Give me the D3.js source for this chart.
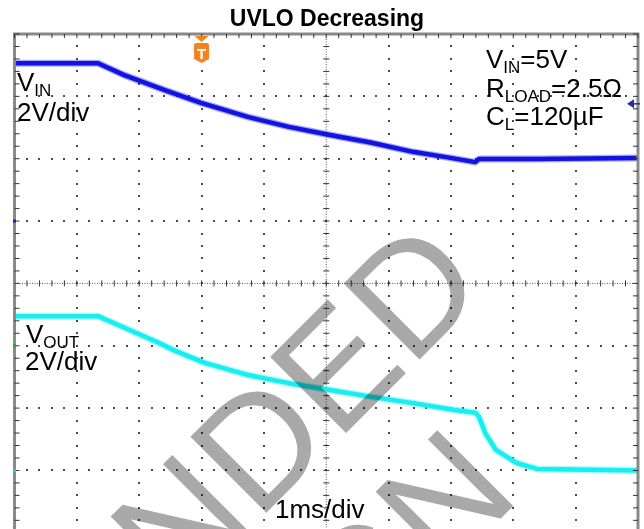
<!DOCTYPE html>
<html>
<head>
<meta charset="utf-8">
<script src="https://cdn.jsdelivr.net/npm/d3@7"></script>
<style>
  body { margin: 0; background: #fff; }
  svg { display: block; }
  text { font-family: "Liberation Sans", Arial, sans-serif; }
</style>
</head>
<body>
<svg id="scope" width="644" height="529"></svg>
<script>
// time in ms relative to the trigger, values in volts
var vinTime  = [-3, -1.66, -1.24, -0.59, -0.01, 0.74, 1.40, 2.06, 2.73, 3.39, 3.92, 4.39, 4.45, 5.38, 7];
var vinVolts = [5.06, 5.06, 4.68, 4.20, 3.79, 3.34, 3.02, 2.76, 2.51, 2.22, 2.05, 1.89, 1.99, 1.99, 2.02];

var voutTime  = [-3, -1.66, -1.09, -0.67, -0.45, 0.05, 0.75, 1.40, 2.06, 2.73, 3.39, 4.06, 4.39, 4.45, 4.55, 4.72, 5.05, 5.38, 7];
var voutVolts = [4.95, 4.95, 4.45, 4.08, 3.86, 3.45, 3.06, 2.80, 2.58, 2.36, 2.16, 1.94, 1.85, 1.72, 1.20, 0.66, 0.24, 0.05, 0.0];

var triggerTime = 0;
var triggerLevel = 3.76;

var title = 'UVLO Decreasing';
var timeLabel = '1ms/div';
var conditions = [
  {main: 'V', sub: 'IN', rest: '=5V'},
  {main: 'R', sub: 'LOAD', rest: '=2.5Ω'},
  {main: 'C', sub: 'L', rest: '=120µF'}
];
var watermark = ['NOT RECOMMENDED', 'FOR NEW DESIGN'];

var svg = d3.select('#scope');

// 10 horizontal divisions, 8 vertical divisions
var plotLeft = 14.5, plotTop = 34, div = 62.35;
var x = d3.scaleLinear().domain([-3, 7]).range([plotLeft, plotLeft + 10 * div]);
var yDiv = d3.scaleLinear().domain([0, 8]).range([plotTop, plotTop + 8 * div]);
var yIn = d3.scaleLinear().domain([6, -10]).range([plotTop, plotTop + 8 * div]);   // 2V/div, ground 3 div down
var yOut = d3.scaleLinear().domain([14, -2]).range([plotTop, plotTop + 8 * div]);  // 2V/div, ground 7 div down

var majorT = d3.range(-3, 7.001, 1);
var minorT = d3.range(-3, 7.001, 0.2);
var majorY = d3.range(0, 8.001, 1);
var minorY = d3.range(0, 8.001, 0.2);
var centerT = 2, centerY = 4;

var grid = svg.append('g').attr('class', 'grid');

// dotted grid lines (one dot per minor division)
majorT.forEach(function(t) {
  if (t === centerT || t === -3 || t === 7) return;
  grid.selectAll(null).data(minorY).enter().append('rect')
    .attr('x', Math.round(x(t)) - 1).attr('y', function(d) { return Math.round(yDiv(d)) - 1; })
    .attr('width', 2).attr('height', 2).attr('fill', '#4a4a4a');
});
majorY.forEach(function(v) {
  if (v === centerY || v === 0 || v === 8) return;
  grid.selectAll(null).data(minorT).enter().append('rect')
    .attr('x', function(d) { return Math.round(x(d)) - 1; }).attr('y', Math.round(yDiv(v)) - 1)
    .attr('width', 2).attr('height', 2).attr('fill', '#4a4a4a');
});

// center axes with minor ticks
grid.append('line')
  .attr('x1', x(centerT)).attr('x2', x(centerT))
  .attr('y1', yDiv(0)).attr('y2', yDiv(8))
  .attr('stroke', '#555').attr('stroke-dasharray', '1,1.5');
grid.append('line')
  .attr('x1', x(-3)).attr('x2', x(7))
  .attr('y1', yDiv(centerY)).attr('y2', yDiv(centerY))
  .attr('stroke', '#555').attr('stroke-dasharray', '1,1.5');
grid.selectAll('.vtick').data(minorY).enter().append('line')
  .attr('x1', x(centerT) - 3).attr('x2', x(centerT) + 3)
  .attr('y1', function(d) { return yDiv(d); }).attr('y2', function(d) { return yDiv(d); })
  .attr('stroke', '#333');
grid.selectAll('.htick').data(minorT).enter().append('line')
  .attr('x1', function(d) { return x(d); }).attr('x2', function(d) { return x(d); })
  .attr('y1', yDiv(centerY) - 3).attr('y2', yDiv(centerY) + 3)
  .attr('stroke', '#333');

// traces
function trace(times, volts, yScale, color) {
  var pts = times.map(function(t, i) { return [x(t), yScale(volts[i])]; });
  var line = d3.line();
  svg.append('path').attr('d', line(pts)).attr('fill', 'none')
    .attr('stroke', color).attr('stroke-opacity', 0.35).attr('stroke-width', 7)
    .attr('stroke-linejoin', 'round');
  svg.append('path').attr('d', line(pts)).attr('fill', 'none')
    .attr('stroke', color).attr('stroke-width', 4.5)
    .attr('stroke-linejoin', 'round');
}
trace(vinTime, vinVolts, yIn, '#1212e2');
trace(voutTime, voutVolts, yOut, '#16eef0');

// frame and edge ticks
var frame = svg.append('g');
frame.append('rect')
  .attr('x', x(-3)).attr('y', yDiv(0))
  .attr('width', x(7) - x(-3)).attr('height', yDiv(8) - yDiv(0))
  .attr('fill', 'none').attr('stroke', '#8a8a8a').attr('stroke-width', 3);
frame.selectAll('.ttick').data(minorT).enter().append('line')
  .attr('x1', function(d) { return x(d); }).attr('x2', function(d) { return x(d); })
  .attr('y1', yDiv(0)).attr('y2', yDiv(0) + 4).attr('stroke', '#333');
frame.selectAll('.ltick').data(minorY).enter().append('line')
  .attr('x1', x(-3)).attr('x2', x(-3) + 5)
  .attr('y1', function(d) { return yDiv(d); }).attr('y2', function(d) { return yDiv(d); })
  .attr('stroke', '#333');
frame.selectAll('.rtick').data(minorY).enter().append('line')
  .attr('x1', x(7)).attr('x2', x(7) - 5)
  .attr('y1', function(d) { return yDiv(d); }).attr('y2', function(d) { return yDiv(d); })
  .attr('stroke', '#333');

// ground markers on the left edge
frame.append('rect').attr('x', x(-3) - 1.5).attr('y', yIn(0) - 1.5).attr('width', 3).attr('height', 3).attr('fill', '#2020c0');
frame.append('rect').attr('x', x(-3) - 1.5).attr('y', yDiv(5) - 1.5).attr('width', 3).attr('height', 3).attr('fill', '#22aa22');
frame.append('rect').attr('x', x(-3) - 1.5).attr('y', yOut(0) - 1.5).attr('width', 3).attr('height', 3).attr('fill', '#16d0d0');

// trigger level arrow (right edge)
var ty = yIn(triggerLevel);
svg.append('path')
  .attr('d', 'M' + (x(7) - 11) + ',' + ty + 'L' + (x(7) - 4) + ',' + (ty - 4.5) + 'L' + (x(7) - 4) + ',' + (ty + 4.5) + 'Z')
  .attr('fill', '#2a2aa8');
svg.append('line').attr('x1', x(7) - 5).attr('x2', x(7) + 2).attr('y1', ty).attr('y2', ty)
  .attr('stroke', '#2a2aa8').attr('stroke-width', 1.5);

// trigger position marker
var tx = x(triggerTime);
svg.append('path')
  .attr('d', 'M' + (tx - 7) + ',36L' + (tx + 7) + ',36L' + tx + ',42Z')
  .attr('fill', '#f5821f');
svg.append('path')
  .attr('d', 'M' + (tx - 7.5) + ',45Q' + (tx - 7.5) + ',43 ' + (tx - 5.5) + ',43L' + (tx + 5.5) + ',43Q' + (tx + 7.5) + ',43 ' + (tx + 7.5) + ',45L' + (tx + 7.5) + ',59L' + tx + ',63L' + (tx - 7.5) + ',59Z')
  .attr('fill', '#f5821f');
svg.append('text').attr('x', tx).attr('y', 58.5).attr('text-anchor', 'middle')
  .attr('font-size', 15).attr('font-weight', 'bold').attr('fill', '#fff').text('T');

// labels
svg.append('text').attr('x', 327).attr('y', 26).attr('text-anchor', 'middle')
  .attr('font-size', 23).attr('font-weight', 'bold').attr('fill', '#000').text(title);

function subLabel(px, py, main, sub, rest) {
  var t = svg.append('text').attr('x', px).attr('y', py).attr('font-size', 26).attr('fill', '#000');
  t.append('tspan').text(main);
  t.append('tspan').attr('font-size', 17).attr('dy', 5).text(sub);
  if (rest) t.append('tspan').attr('dy', -5).text(rest);
}

subLabel(17, 91, 'V', 'IN');
svg.append('text').attr('x', 17).attr('y', 121).attr('font-size', 26).text('2V/div');
subLabel(26, 343, 'V', 'OUT');
svg.append('text').attr('x', 25).attr('y', 370).attr('font-size', 26).text('2V/div');

conditions.forEach(function(c, i) {
  subLabel(486, [68, 97, 125][i], c.main, c.sub, c.rest);
});

svg.append('text').attr('x', 275).attr('y', 518).attr('font-size', 26).text(timeLabel);

// watermark
var wm = svg.append('g')
  .attr('transform', 'translate(410.5,368.5) rotate(-45)')
  .style('mix-blend-mode', 'multiply')
  .attr('fill', '#a9a9a9').attr('font-size', 156);
wm.append('text').attr('x', 112.6).attr('y', 0).attr('text-anchor', 'end').text(watermark[0]);
wm.append('text').attr('x', -12).attr('y', 170).attr('text-anchor', 'end').text(watermark[1]);
</script>
</body>
</html>
